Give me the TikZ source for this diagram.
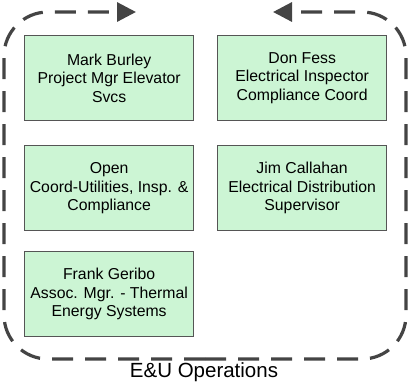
\documentclass[tikz,border=0pt]{standalone}
\usepackage{fontspec}
\setmainfont{Liberation Sans}
\usetikzlibrary{arrows.meta}
\definecolor{boxfill}{HTML}{CCF5D4}
\definecolor{boxline}{HTML}{555555}
\definecolor{loopline}{HTML}{444444}
\begin{document}
\begin{tikzpicture}[x=1pt,y=-1pt,
  person/.style={draw=boxline,line width=1.3pt,fill=boxfill,minimum width=169pt,minimum height=85pt,
    inner sep=0pt,align=center,font=\fontsize{15.8}{18.5}\selectfont,anchor=north west},
  loop/.style={draw=loopline,line width=3.2pt,dash pattern=on 21pt off 12pt,
    -{Triangle[length=19pt,width=19pt]}}]
\useasboundingbox (0,0) rectangle (409,381);
\node[person] (mb) at (24,35) {Mark Burley\\Project Mgr Elevator\\Svcs};
\node[person] (df) at (217,35) {Don Fess\\Electrical Inspector\\Compliance Coord};
\node[person] (op) at (24,145) {Open\\Coord-Utilities, Insp. \&\\Compliance};
\node[person] (jc) at (217,145) {Jim Callahan\\Electrical Distribution\\Supervisor};
\node[person] (fg) at (24,251) {Frank Geribo\\Assoc. Mgr. - Thermal\\Energy Systems};
\coordinate (bm) at (205,359);
\coordinate (tl) at (136,12);
\coordinate (tr) at (273,12);
\draw[loop] (bm) -- (48,359) arc[start angle=90,end angle=180,radius=44] -- (4,56)
  arc[start angle=180,end angle=270,radius=44] -- (tl);
\draw[loop] (bm) -- (362,359) arc[start angle=90,end angle=0,radius=44] -- (406,56)
  arc[start angle=0,end angle=-90,radius=44] -- (tr);
\node[font=\fontsize{20.5}{22}\selectfont] (lab) at (204,372) {E\&U Operations};
\end{tikzpicture}
\end{document}
